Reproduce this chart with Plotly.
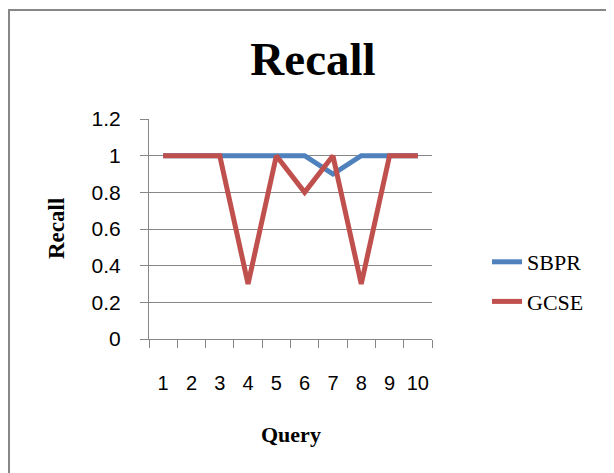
import plotly.graph_objects as go

# ---- data ----
QUERIES = ["1", "2", "3", "4", "5", "6", "7", "8", "9", "10"]
SBPR = [1, 1, 1, 1, 1, 1, 0.9, 1, 1, 1]
GCSE = [1, 1, 1, 0.3, 1, 0.8, 1, 0.3, 1, 1]
Y_TICKS = [0, 0.2, 0.4, 0.6, 0.8, 1, 1.2]
Y_TICK_TEXT = ["0", "0.2", "0.4", "0.6", "0.8", "1", "1.2"]

W, H = 614, 473
OFF = 8  # page body margin offset
# plot area in screen pixels: x 149..432, y 119..339
L, T = 149 - OFF, 119 - OFF
R = W - (432 - OFF)
B = H - (339 - OFF)
PW, PH = W - L - R, H - T - B

def px_x(sx):
    return (sx - OFF - L) / PW

def px_y(sy):
    return (H - B - (sy - OFF)) / PH

SERIF = "Liberation Serif, Times New Roman, serif"
SANS = "Liberation Sans, Arial, sans-serif"
GRAY = "#878787"

fig = go.Figure()
fig.add_trace(go.Scatter(x=QUERIES, y=SBPR, mode="lines", name="SBPR",
                         line=dict(color="#4F81BD", width=5),
                         legendgroup="a"))
fig.add_trace(go.Scatter(x=QUERIES, y=GCSE, mode="lines", name="GCSE",
                         line=dict(color="#C0504D", width=5),
                         legendgroup="b"))

fig.update_layout(
    width=W, height=H,
    margin=dict(l=L, r=R, t=T, b=B),
    paper_bgcolor="white", plot_bgcolor="white",
    title=dict(text="<b>Recall</b>", font=dict(family=SERIF, size=47, color="black"),
               xref="container", yref="container", x=(313 - OFF) / W,
               y=1 - (59 - OFF) / H, xanchor="center", yanchor="middle"),
    legend=dict(x=px_x(487), y=px_y(241), xanchor="left", yanchor="top",
                font=dict(family=SERIF, size=22, color="black"),
                traceorder="grouped", tracegroupgap=8,
                bgcolor="rgba(0,0,0,0)"),
    showlegend=True,
)

fig.update_xaxes(type="category", range=[-0.5, len(QUERIES) - 0.5],
                 tickson="boundaries", showgrid=False, tickangle=0,
                 ticks="outside", ticklen=8, tickcolor=GRAY, tickwidth=1,
                 showline=True, linecolor=GRAY, linewidth=1,
                 tickfont=dict(family=SANS, size=20, color="black"),
                 ticklabelstandoff=26, zeroline=False)
fig.update_yaxes(range=[0, 1.2], tickvals=Y_TICKS, ticktext=Y_TICK_TEXT,
                 showgrid=True, gridcolor=GRAY, gridwidth=1,
                 ticks="outside", ticklen=8, tickcolor=GRAY, tickwidth=1,
                 showline=True, linecolor=GRAY, linewidth=1, zeroline=False,
                 tickfont=dict(family=SANS, size=21, color="black"),
                 ticklabelstandoff=15)

fig.add_annotation(text="<b>Recall</b>", textangle=-90, xref="paper", yref="paper",
                   x=px_x(56), y=px_y(229), xanchor="center", yanchor="middle",
                   showarrow=False, font=dict(family=SERIF, size=23, color="black"))
fig.add_annotation(text="<b>Query</b>", xref="paper", yref="paper",
                   x=px_x(291), y=px_y(434), xanchor="center", yanchor="middle",
                   showarrow=False, font=dict(family=SERIF, size=22, color="black"))

# outer chart border (top and left visible)
fig.add_shape(type="rect", xref="paper", yref="paper",
              x0=px_x(9), y0=px_y(10), x1=px_x(800), y1=px_y(700),
              line=dict(color=GRAY, width=2), fillcolor="rgba(0,0,0,0)", layer="below")

fig.write_html("out.html")
